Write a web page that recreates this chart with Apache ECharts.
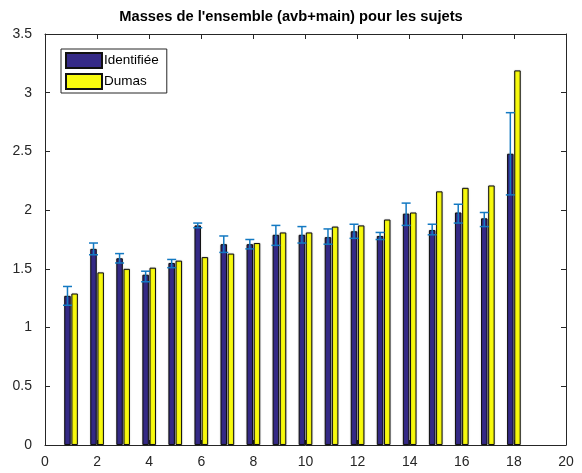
<!DOCTYPE html>
<html>
<head>
<meta charset="utf-8">
<script src="https://cdn.jsdelivr.net/npm/echarts@6/dist/echarts.min.js"></script>
<style>
html,body{margin:0;padding:0;background:#fff;}
#chart{width:582px;height:473px;}
</style>
</head>
<body>
<div id="chart"></div>
<script>
// ---- data ----
var subjects = [1,2,3,4,5,6,7,8,9,10,11,12,13,14,15,16,17,18];
var identifiee = [1.27,1.67,1.59,1.45,1.55,1.87,1.71,1.71,1.79,1.79,1.77,1.82,1.78,1.97,1.83,1.98,1.93,2.48];
var dumas      = [1.29,1.47,1.50,1.51,1.57,1.60,1.63,1.72,1.81,1.81,1.86,1.87,1.92,1.98,2.16,2.19,2.21,3.19];
var errHigh    = [1.35,1.72,1.63,1.48,1.58,1.89,1.78,1.75,1.87,1.86,1.84,1.88,1.81,2.06,1.88,2.05,1.98,2.83];
var errLow     = [1.19,1.62,1.55,1.39,1.51,1.85,1.64,1.67,1.70,1.72,1.71,1.76,1.75,1.87,1.79,1.89,1.86,2.13];
var seriesNames = ['Identifiée','Dumas'];
var titleText = "Masses de l'ensemble (avb+main) pour les sujets";

// ---- build ----
var FONT = "'Liberation Sans', Arial, Helvetica, sans-serif";
var AXC = '#262626';
var BAR_W = 6.5, BAR_GAP = 0.1;
var errOffset = -(BAR_W * (1 + BAR_GAP)) / 2;

var blueData = subjects.map(function(s,i){ return [s, identifiee[i]]; });
var yellowData = subjects.map(function(s,i){ return [s, dumas[i]]; });
var errData = subjects.map(function(s,i){ return [s, errLow[i], errHigh[i]]; });

var chart = echarts.init(document.getElementById('chart'), null, {renderer:'canvas'});

function axisCommon(){
  return {
    axisLine:{show:true, onZero:false, lineStyle:{color:AXC, width:1}},
    axisTick:{show:true, inside:true, length:5, lineStyle:{color:AXC, width:1}},
    splitLine:{show:false}
  };
}

var xBottom = Object.assign(axisCommon(), {
  type:'value', position:'bottom', min:0, max:20, interval:2,
  axisLabel:{show:true, color:AXC, fontFamily:FONT, fontSize:14, margin:10}
});
var xTop = Object.assign(axisCommon(), {
  type:'value', position:'top', min:0, max:20, interval:2,
  axisLabel:{show:false}
});
var yLeft = Object.assign(axisCommon(), {
  type:'value', position:'left', min:0, max:3.5, interval:0.5,
  axisLabel:{show:true, color:AXC, fontFamily:FONT, fontSize:14, margin:13}
});
var yRight = Object.assign(axisCommon(), {
  type:'value', position:'right', min:0, max:3.5, interval:0.5,
  axisLabel:{show:false}
});

var option = {
  animation:false,
  backgroundColor:'#fff',
  title:{
    text:titleText,
    left:'center', top:9,
    padding:[0,0,0,0],
    textStyle:{fontFamily:FONT, fontSize:14.7, fontWeight:'bold', color:'#000'}
  },
  legend:{
    data:seriesNames,
    orient:'vertical',
    left:61, top:49,
    icon:'rect',
    itemWidth:36, itemHeight:15, itemGap:4,
    padding:[3,8,3,4],
    borderColor:AXC, borderWidth:1,
    backgroundColor:'#fff',
    textStyle:{fontFamily:FONT, fontSize:13.5, color:'#000', padding:[0,0,0,-3]},
    selectedMode:false
  },
  grid:{left:45, right:16, top:34, bottom:28, containLabel:false},
  xAxis:[xBottom, xTop],
  yAxis:[yLeft, yRight],
  series:[
    {
      name:seriesNames[0], type:'bar', xAxisIndex:0, yAxisIndex:0,
      data:blueData, barWidth:BAR_W, barGap:(BAR_GAP*100)+'%',
      itemStyle:{color:'#352a87', borderColor:'#111', borderWidth:1,
        shadowColor:'rgba(0,0,0,0.3)', shadowBlur:1.5}
    },
    {
      name:seriesNames[1], type:'bar', xAxisIndex:0, yAxisIndex:0,
      data:yellowData, barWidth:BAR_W, barGap:(BAR_GAP*100)+'%',
      itemStyle:{color:'#f9fb0e', borderColor:'#111', borderWidth:1,
        shadowColor:'rgba(0,0,0,0.3)', shadowBlur:1.5}
    },
    {
      name:'err', type:'custom', xAxisIndex:0, yAxisIndex:0, z:5,
      data:errData,
      encode:{x:0, y:[1,2]},
      renderItem:function(params, api){
        var x = api.value(0), lo = api.value(1), hi = api.value(2);
        var pHi = api.coord([x, hi]);
        var pLo = api.coord([x, lo]);
        var cx = pHi[0] + errOffset;
        var cap = 4.5;
        var st = {stroke:'#1379c2', lineWidth:1.5};
        return {
          type:'group',
          children:[
            {type:'line', shape:{x1:cx, y1:pHi[1], x2:cx, y2:pLo[1]}, style:st},
            {type:'line', shape:{x1:cx-cap, y1:pHi[1], x2:cx+cap, y2:pHi[1]}, style:st},
            {type:'line', shape:{x1:cx-cap, y1:pLo[1], x2:cx+cap, y2:pLo[1]}, style:st}
          ]
        };
      }
    }
  ]
};
chart.setOption(option);
</script>
</body>
</html>
